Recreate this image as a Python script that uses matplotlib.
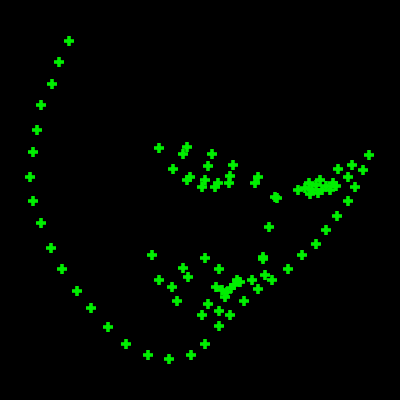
import matplotlib
matplotlib.use("Agg")
import matplotlib.pyplot as plt

# outer arc (left side and bottom)
arc_x = [69, 59, 52, 41, 37, 33, 30, 33, 41, 51, 62, 77, 91, 108, 126, 148, 169, 191, 205, 219]
arc_y = [41, 62, 84, 105, 130, 152, 177, 201, 223, 248, 269, 291, 308, 327, 344, 355, 359, 355, 344, 326]

# right arm going up
arm_x = [288, 302, 316, 326, 337, 348, 355, 363, 369]
arm_y = [269, 255, 244, 230, 216, 201, 187, 170, 155]

# upper inner group
up_x = [159, 187, 183, 212, 208, 233, 173, 190, 187, 205, 202, 218, 215, 230, 229, 258, 255, 275, 277, 269, 263]
up_y = [148, 147, 154, 154, 166, 165, 169, 177, 180, 180, 187, 183, 187, 176, 183, 177, 183, 197, 198, 227, 257]

# dense cluster on the right
cl_x = [298, 305, 309, 312, 316, 320, 322, 326, 330, 333, 336, 318, 310, 338, 352, 348]
cl_y = [190, 188, 183, 190, 185, 180, 190, 186, 190, 183, 186, 193, 194, 169, 165, 177]

# lower inner group
lo_x = [152, 205, 263, 183, 188, 219, 159, 172, 177, 216, 237, 252, 265, 272, 258, 244,
        227, 225, 222, 231, 208, 202, 219, 230, 240, 234]
lo_y = [255, 258, 259, 268, 277, 269, 280, 287, 301, 287, 280, 280, 275, 280, 289, 301,
        292, 297, 290, 288, 304, 315, 311, 315, 282, 285]

xs = arc_x + arm_x + up_x + cl_x + lo_x
ys = arc_y + arm_y + up_y + cl_y + lo_y

fig = plt.figure(figsize=(4, 4), dpi=100, facecolor="black")
ax = fig.add_axes([0, 0, 1, 1])
ax.set_facecolor("black")
ax.plot(xs, ys, linestyle="none", marker="+", color="#00ee00",
        markersize=7, markeredgewidth=2.6)
ax.set_xlim(0, 400)
ax.set_ylim(400, 0)
ax.axis("off")
fig.savefig("out.png", facecolor="black")
